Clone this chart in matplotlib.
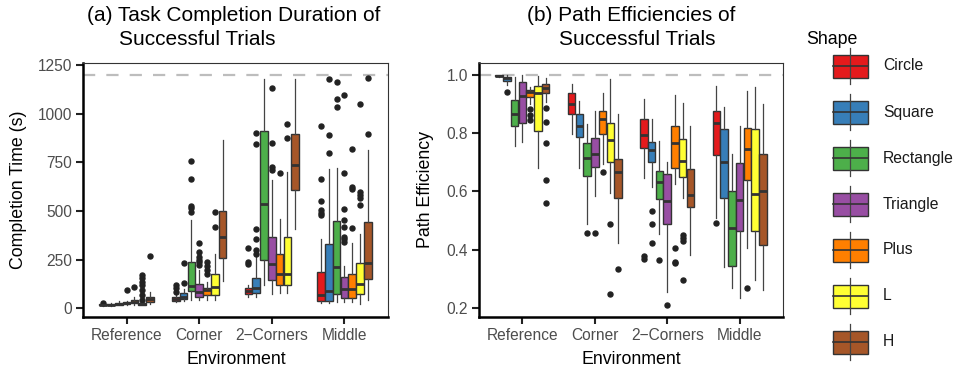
import matplotlib
matplotlib.use("Agg")
import matplotlib.pyplot as plt
from matplotlib.patches import Rectangle

plt.rcParams['font.family'] = ['Liberation Sans', 'DejaVu Sans']

# shapes / environments
shapes = ["Circle", "Square", "Rectangle", "Triangle", "Plus", "L", "H"]
envs = ["Reference", "Corner", "2\u2212Corners", "Middle"]
colors = ["#E41A1C", "#377EB8", "#4DAF4A", "#984EA3", "#FF7F00", "#FFFF33", "#A65628"]

# (a) completion time, one row per environment, one value per shape
time_q1 = [[15, 14, 18, 20, 25, 18, 32],
           [38, 45, 89, 58, 67, 67, 259],
           [70, 76, 247, 144, 118, 118, 610],
           [36, 36, 72, 50, 53, 70, 148]]
time_med = [[17, 17, 22, 24, 33, 23, 45],
            [48, 58, 115, 81, 93, 110, 367],
            [87, 104, 535, 226, 178, 175, 739],
            [67, 87, 213, 96, 96, 122, 230]]
time_q3 = [[19, 21, 28, 30, 41, 28, 58],
           [58, 76, 238, 125, 104, 173, 499],
           [101, 156, 912, 364, 276, 364, 895],
           [184, 329, 449, 158, 178, 230, 441]]
time_lo = [[13, 12, 14, 16, 18, 14, 22],
           [30, 38, 40, 40, 40, 40, 139],
           [58, 58, 118, 70, 76, 76, 406],
           [24, 24, 30, 30, 30, 19, 43]]
time_hi = [[21, 25, 34, 38, 58, 36, 81],
           [75, 100, 456, 195, 135, 276, 863],
           [118, 269, 1178, 658, 461, 701, 1181],
           [358, 718, 721, 218, 333, 381, 816]]
time_out = [[[26], [], [], [92], [106], [41, 67, 93, 118, 135, 153, 170], [267]],
            [[84, 101, 118], [130, 233], [495, 513, 526, 664, 758],
             [221, 235, 250, 264, 290, 333], [173, 195, 216, 238], [415, 495], []],
            [[225, 238, 307], [281, 298, 355, 405, 844, 902], [],
             [713, 724, 852, 1135], [693], [878, 946], []],
            [[478, 490, 504, 552, 665, 938], [801, 893, 1178], [1036, 1078, 1164],
             [341, 354, 367, 415, 453, 509, 698, 1099], [410, 612, 621, 821],
             [530, 569, 580, 598, 1053], [895, 1183]]]

# (b) path efficiency
eff_q1 = [[0.995, 0.979, 0.826, 0.834, 0.923, 0.808, 0.937],
          [0.866, 0.786, 0.654, 0.683, 0.796, 0.702, 0.577],
          [0.748, 0.702, 0.573, 0.488, 0.680, 0.649, 0.546],
          [0.725, 0.577, 0.344, 0.464, 0.639, 0.464, 0.416]]
eff_med = [[0.998, 0.990, 0.866, 0.926, 0.940, 0.937, 0.954],
           [0.900, 0.826, 0.716, 0.729, 0.849, 0.777, 0.666],
           [0.794, 0.742, 0.632, 0.568, 0.765, 0.705, 0.588],
           [0.834, 0.702, 0.474, 0.571, 0.746, 0.590, 0.600]]
eff_q3 = [[1.000, 0.994, 0.914, 0.975, 0.949, 0.963, 0.969],
          [0.937, 0.865, 0.768, 0.783, 0.876, 0.834, 0.711],
          [0.848, 0.769, 0.670, 0.660, 0.826, 0.780, 0.676],
          [0.877, 0.814, 0.602, 0.697, 0.819, 0.815, 0.728]]
eff_lo = [[0.993, 0.965, 0.757, 0.771, 0.900, 0.682, 0.908],
          [0.796, 0.680, 0.488, 0.585, 0.693, 0.594, 0.422],
          [0.645, 0.617, 0.453, 0.254, 0.625, 0.577, 0.382],
          [0.510, 0.342, 0.268, 0.233, 0.407, 0.296, 0.262]]
eff_hi = [[1.000, 1.000, 0.994, 1.000, 0.960, 0.995, 0.990],
          [0.968, 0.910, 0.832, 0.876, 0.937, 0.985, 0.865],
          [0.918, 0.848, 0.774, 0.700, 0.931, 0.905, 0.823],
          [0.963, 0.889, 0.728, 0.826, 0.946, 0.958, 0.899]]
eff_out = [[[], [0.943], [], [], [0.845, 0.863, 0.883], [], [0.56, 0.64, 0.766, 0.84, 0.886]],
           [[], [], [0.456], [0.457], [0.668], [0.247, 0.487], [0.333]],
           [[0.368, 0.38], [0.424, 0.487, 0.534], [0.366], [0.21],
            [0.353, 0.359, 0.407], [0.296, 0.43, 0.44, 0.45], []],
           [[0.491], [], [], [], [0.268], [], []]]

W, H = 956, 372
fig = plt.figure(figsize=(W / 100, H / 100), dpi=100)


def px(x0, y0, x1, y1):
    # pixel box -> figure fraction
    return [x0 / W, 1 - y1 / H, (x1 - x0) / W, (y1 - y0) / H]


def draw_panel(ax, q1, med, q3, lo, hi, out):
    n = len(shapes)
    slot = 0.75 / n
    for e in range(len(envs)):
        stats, pos = [], []
        for s in range(n):
            stats.append(dict(med=med[e][s], q1=q1[e][s], q3=q3[e][s],
                              whislo=lo[e][s], whishi=hi[e][s], fliers=out[e][s]))
            pos.append(e + 1 + (s - (n - 1) / 2) * slot)
        b = ax.bxp(stats, positions=pos, widths=slot * 0.97, patch_artist=True,
                   showcaps=False,
                   boxprops=dict(edgecolor="#333333", linewidth=1.0),
                   medianprops=dict(color="#333333", linewidth=2.0),
                   whiskerprops=dict(color="#444444", linewidth=0.9),
                   flierprops=dict(marker="o", markerfacecolor="#222222",
                                   markeredgecolor="#222222", markersize=3.6))
        for patch, c in zip(b["boxes"], colors):
            patch.set_facecolor(c)
    ax.set_xlim(0.4, 4.6)
    ax.set_xticks(range(1, 5))
    ax.set_xticklabels(envs)
    ax.tick_params(axis="both", length=5, width=1.5, color="#222222",
                   labelsize=11.2, labelcolor="#4d4d4d", pad=3)
    for side in ["left", "bottom"]:
        ax.spines[side].set_linewidth(1.8)
        ax.spines[side].set_color("black")
    for side in ["top", "right"]:
        ax.spines[side].set_linewidth(0.8)
        ax.spines[side].set_color("#333333")


# panel (a)
ax1 = fig.add_axes(px(83, 63, 388, 317))
ax1.axhline(1200, color="#bdbdbd", linewidth=1.6, linestyle=(0, (5.5, 5)), zorder=0)
draw_panel(ax1, time_q1, time_med, time_q3, time_lo, time_hi, time_out)
ax1.set_ylim(-46, 1262)
ax1.set_yticks([0, 250, 500, 750, 1000, 1250])

# panel (b)
ax2 = fig.add_axes(px(479, 63, 783, 317))
ax2.axhline(1.0, color="#bdbdbd", linewidth=1.6, linestyle=(0, (5.5, 5)), zorder=0)
draw_panel(ax2, eff_q1, eff_med, eff_q3, eff_lo, eff_hi, eff_out)
ax2.set_ylim(0.169, 1.041)
ax2.set_yticks([0.2, 0.4, 0.6, 0.8, 1.0])
ax2.set_yticklabels(["0.2", "0.4", "0.6", "0.8", "1.0"])

# titles and axis labels
fig.text(233.5 / W, 1 - 21 / H, "(a) Task Completion Duration of", ha="center",
         va="baseline", fontsize=15)
fig.text(119 / W, 1 - 45 / H, "Successful Trials", ha="left", va="baseline", fontsize=15)
fig.text(631 / W, 1 - 21 / H, "(b) Path Efficiencies of", ha="center",
         va="baseline", fontsize=15)
fig.text(559 / W, 1 - 45 / H, "Successful Trials", ha="left", va="baseline", fontsize=15)

fig.text(19 / W, 1 - 190 / H, "Completion Time (s)", rotation=90, ha="center",
         va="center", fontsize=12.8)
fig.text(425 / W, 1 - 190 / H, "Path Efficiency", rotation=90, ha="center",
         va="center", fontsize=12.8)
fig.text(236 / W, 1 - 359 / H, "Environment", ha="center", va="center", fontsize=12.8)
fig.text(631 / W, 1 - 359 / H, "Environment", ha="center", va="center", fontsize=12.8)

# legend drawn as small boxplot keys
lg = fig.add_axes([0, 0, 1, 1], facecolor="none")
lg.set_xlim(0, W)
lg.set_ylim(H, 0)
lg.axis("off")
lg.text(806, 40, "Shape", ha="left", va="center", fontsize=12.8)
for i, (name, c) in enumerate(zip(shapes, colors)):
    yc = 66 + i * 46
    lg.plot([850.5, 850.5], [yc - 18, yc + 18], color="#444444", linewidth=0.9)
    lg.add_patch(Rectangle((833, yc - 11.5), 35, 23, facecolor=c,
                           edgecolor="#333333", linewidth=1.0))
    lg.plot([833, 868], [yc, yc], color="#333333", linewidth=1.2)
    lg.text(883, yc, name, ha="left", va="center", fontsize=11.3, color="#1a1a1a")

fig.savefig("out.png", dpi=100)
